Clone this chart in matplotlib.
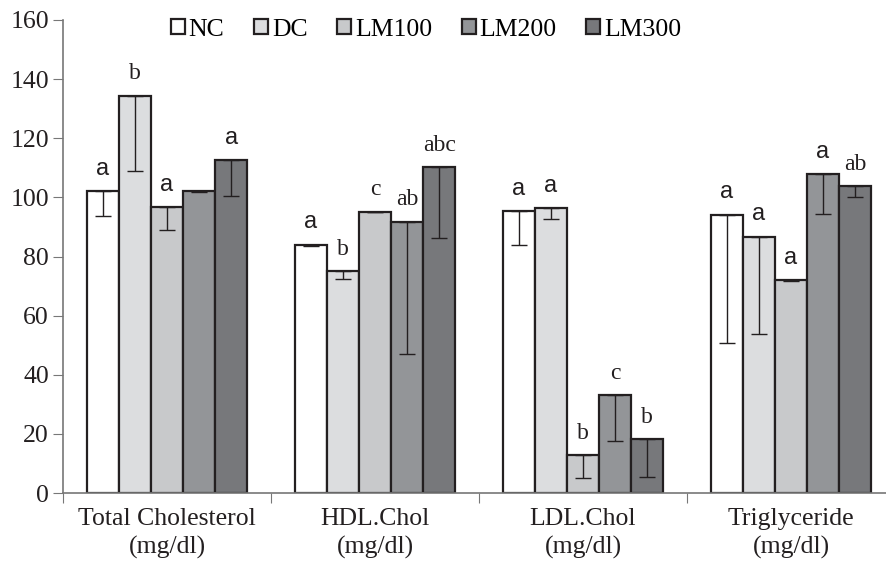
import numpy as np
import matplotlib.pyplot as plt
from matplotlib.patches import Patch

categories = ["Total Cholesterol\n(mg/dl)", "HDL.Chol\n(mg/dl)",
              "LDL.Chol\n(mg/dl)", "Triglyceride\n(mg/dl)"]
groups = ["NC", "DC", "LM100", "LM200", "LM300"]
colors = ["#ffffff", "#dcdddf", "#c8c9cb", "#939598", "#77787b"]

# mean values per group, one list per treatment
nc = [102.2, 84.0, 95.4, 94.2]
dc = [134.4, 75.1, 96.4, 86.7]
lm100 = [96.8, 95.2, 12.9, 72.1]
lm200 = [102.2, 91.8, 33.0, 107.8]
lm300 = [112.6, 110.2, 18.2, 103.7]
values = [nc, dc, lm100, lm200, lm300]

# lower error (SD) shown only below the bar top
nc_err = [8.5, 0.3, 11.4, 43.6]
dc_err = [25.5, 2.6, 3.7, 33.0]
lm100_err = [7.8, 0.3, 7.7, 0.5]
lm200_err = [0.3, 44.7, 15.4, 13.4]
lm300_err = [12.0, 24.0, 12.7, 3.6]
errors = [nc_err, dc_err, lm100_err, lm200_err, lm300_err]

letters = [["a", "a", "a", "a"],
           ["b", "b", "a", "a"],
           ["a", "c", "b", "a"],
           ["", "ab", "c", "a"],
           ["a", "abc", "b", "ab"]]

plt.rcParams['font.family'] = 'Liberation Serif'

fig = plt.figure(figsize=(8.86, 5.64), dpi=100)
ax = fig.add_axes([63 / 886, 71 / 564, 832 / 886, 473 / 564])

x = np.arange(len(categories))
w = 0.154
edge = "#231f20"
for i, name in enumerate(groups):
    pos = x + (i - 2) * w
    ax.bar(pos, values[i], width=w, color=colors[i], edgecolor=edge,
           linewidth=1.6, label=name, zorder=2)
    ax.errorbar(pos, values[i], yerr=[errors[i], np.zeros(len(x))],
                fmt="none", ecolor=edge, elinewidth=1.0, capsize=5.5,
                capthick=1.0, zorder=3)
    for j, lab in enumerate(letters[i]):
        if not lab:
            continue
        fam = 'Liberation Sans' if lab == "a" else 'Liberation Serif'
        ax.text(pos[j], values[i][j] + 5.5, lab, ha="center", va="baseline",
                fontsize=17, family=fam, color="#231f20")

ax.set_xlim(-0.5, 3.5)
ax.set_ylim(0, 160)
ax.set_yticks(np.arange(0, 161, 20))
ax.set_xticks(np.arange(-0.5, 3.6, 1.0))
ax.set_xticks(x, minor=True)
ax.set_xticklabels([])
ax.set_xticklabels(categories, minor=True)
ax.tick_params(axis="x", which="minor", length=0, pad=11, labelsize=18.5)
ax.tick_params(axis="x", which="major", length=7, color="#777777", direction="out")
ax.tick_params(axis="y", length=7, color="#777777", labelsize=18.5, pad=3,
               labelcolor="#231f20")
for lbl in ax.get_xticklabels(minor=True):
    lbl.set_color("#231f20")
    lbl.set_linespacing(1.3)

for s in ["top", "right"]:
    ax.spines[s].set_visible(False)
for s in ["left", "bottom"]:
    ax.spines[s].set_color("#777777")
    ax.spines[s].set_linewidth(1.2)

handles = [Patch(facecolor=c, edgecolor=edge, linewidth=1.6) for c in colors]
leg = ax.legend(handles, groups, ncol=5, loc="upper center",
                frameon=False, fontsize=18.5, handlelength=0.55, handleheight=0.55,
                handletextpad=0.15, columnspacing=1.15, borderaxespad=0)
leg.set_bbox_to_anchor((426 / 886, 0.985), transform=fig.transFigure)

fig.savefig("out.png", dpi=100)
